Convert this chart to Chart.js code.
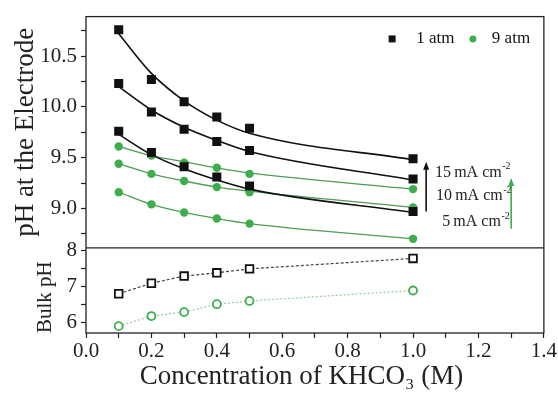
<!DOCTYPE html>
<html>
<head>
<meta charset="utf-8">
<script src="https://cdn.jsdelivr.net/npm/chart.js@4.4.1/dist/chart.umd.min.js"></script>
<style>
  html, body { margin: 0; padding: 0; background: #fff; }
</style>
</head>
<body>
<canvas id="phChart" width="558" height="394"></canvas>
<script>
// KHCO3 concentration (M)
const conc = [0.1, 0.2, 0.3, 0.4, 0.5, 1.0];

// electrode pH, measured points, 1 atm
const atm1_15 = [10.76, 10.27, 10.05, 9.90, 9.79, 9.49];
const atm1_10 = [10.23, 9.95, 9.78, 9.66, 9.57, 9.29];
const atm1_5 = [9.76, 9.55, 9.41, 9.31, 9.22, 8.97];
// electrode pH, measured points, 9 atm
const atm9_15 = [9.61, 9.52, 9.45, 9.40, 9.34, 9.19];
const atm9_10 = [9.44, 9.34, 9.27, 9.21, 9.16, 9.01];
const atm9_5 = [9.16, 9.04, 8.96, 8.90, 8.85, 8.70];

// fitted curves at the same concentrations
const fit1_15 = [10.72, 10.33, 10.06, 9.87, 9.74, 9.48];
const fit1_10 = [10.20, 9.97, 9.80, 9.67, 9.56, 9.28];
const fit1_5 = [9.73, 9.53, 9.39, 9.28, 9.19, 8.96];
const fit9_15 = [9.61, 9.52, 9.46, 9.40, 9.35, 9.19];
const fit9_10 = [9.44, 9.34, 9.27, 9.21, 9.17, 9.01];
const fit9_5 = [9.16, 9.04, 8.96, 8.90, 8.85, 8.70];

// bulk pH
const bulk1 = [6.81, 7.10, 7.30, 7.39, 7.50, 7.79];
const bulk9 = [5.91, 6.19, 6.30, 6.52, 6.61, 6.90];

const SERIF = "'Liberation Serif', 'Times New Roman', serif";
const BLACK = '#111111';
const GREEN = '#3dae4b';
const GREEN_LINE = '#4f9c57';

function pts(ys) {
    return conc.map((x, i) => ({ x: x, y: ys[i] }));
}

function markers(ys, color, style, radius) {
    return {
        data: pts(ys), yAxisID: 'y', showLine: false, order: 1,
        pointStyle: style, pointRadius: radius, pointHoverRadius: radius,
        pointBackgroundColor: color, pointBorderColor: color, pointBorderWidth: 0
    };
}

function fitLine(ys, color, width) {
    return {
        data: pts(ys), yAxisID: 'y', order: 2,
        borderColor: color, borderWidth: width, pointRadius: 0,
        cubicInterpolationMode: 'monotone', fill: false
    };
}

function bulkLine(ys, color, lineColor, style, radius, dash) {
    return {
        data: pts(ys), yAxisID: 'yb', order: 1,
        borderColor: lineColor, borderWidth: 1.2, borderDash: dash,
        pointStyle: style, pointRadius: radius, pointHoverRadius: radius,
        pointBackgroundColor: '#fff', pointBorderColor: color, pointBorderWidth: 1.8
    };
}

// frame, legend and current density arrows
const decorPlugin = {
    id: 'decor',
    afterDraw(chart) {
        const ctx = chart.ctx;
        const a = chart.chartArea;
        const sx = chart.scales.x;
        const sy = chart.scales.y;
        const px = v => sx.getPixelForValue(v);
        const py = v => sy.getPixelForValue(v);
        ctx.save();

        // frame + panel divider
        ctx.strokeStyle = '#222';
        ctx.lineWidth = 1.3;
        ctx.strokeRect(a.left, a.top, a.right - a.left, a.bottom - a.top);
        ctx.beginPath();
        ctx.moveTo(a.left, chart.scales.yb.top);
        ctx.lineTo(a.right, chart.scales.yb.top);
        ctx.stroke();

        // legend
        ctx.font = '17px ' + SERIF;
        ctx.textBaseline = 'middle';
        ctx.textAlign = 'left';
        ctx.fillStyle = BLACK;
        ctx.fillRect(px(0.936) - 3.5, py(10.67) - 3.5, 7, 7);
        ctx.fillText('1 atm', px(1.01), py(10.67));
        ctx.fillStyle = GREEN;
        ctx.beginPath();
        ctx.arc(px(1.183), py(10.67), 3.5, 0, Math.PI * 2);
        ctx.fill();
        ctx.fillStyle = BLACK;
        ctx.fillText('9 atm', px(1.241), py(10.67));

        // arrows
        function arrow(x, y0, y1, color) {
            ctx.strokeStyle = color;
            ctx.fillStyle = color;
            ctx.lineWidth = 1.6;
            ctx.beginPath();
            ctx.moveTo(px(x), py(y0));
            ctx.lineTo(px(x), py(y1) + 5);
            ctx.stroke();
            ctx.beginPath();
            ctx.moveTo(px(x), py(y1));
            ctx.lineTo(px(x) - 3, py(y1) + 8);
            ctx.lineTo(px(x) + 3, py(y1) + 8);
            ctx.closePath();
            ctx.fill();
        }
        arrow(1.04, 8.97, 9.46, BLACK);
        arrow(1.30, 8.80, 9.30, GREEN);

        // current density labels with superscript
        function label(x, y, main) {
            ctx.fillStyle = '#222';
            ctx.font = '16px ' + SERIF;
            ctx.fillText(main, px(x), py(y));
            const w = ctx.measureText(main).width;
            ctx.font = '10px ' + SERIF;
            ctx.fillText('-2', px(x) + w + 0.5, py(y) - 6);
        }
        label(1.067, 9.354, '15\u2009mA cm');
        label(1.070, 9.120, '10\u2009mA cm');
        label(1.089, 8.866, '5\u2009mA cm');

        ctx.restore();
    }
};

const tickFont = { family: SERIF, size: 21 };
const tickGrid = {
    drawOnChartArea: false, drawTicks: true, tickLength: 5,
    tickColor: '#222', tickWidth: 1.2
};

new Chart(document.getElementById('phChart'), {
    type: 'line',
    data: {
        datasets: [
            fitLine(fit1_15, BLACK, 1.6),
            fitLine(fit1_10, BLACK, 1.6),
            fitLine(fit1_5, BLACK, 1.6),
            fitLine(fit9_15, GREEN_LINE, 1.3),
            fitLine(fit9_10, GREEN_LINE, 1.3),
            fitLine(fit9_5, GREEN_LINE, 1.3),
            markers(atm1_15, BLACK, 'rect', 6.4),
            markers(atm1_10, BLACK, 'rect', 6.4),
            markers(atm1_5, BLACK, 'rect', 6.4),
            markers(atm9_15, GREEN, 'circle', 4.2),
            markers(atm9_10, GREEN, 'circle', 4.2),
            markers(atm9_5, GREEN, 'circle', 4.2),
            bulkLine(bulk1, BLACK, '#444', 'rect', 5.4, [3, 2]),
            bulkLine(bulk9, GREEN, '#9cc7a0', 'circle', 4, [2, 2])
        ]
    },
    options: {
        responsive: false,
        animation: false,
        layout: { padding: { left: 0, right: 13, top: 13, bottom: 0 } },
        plugins: {
            legend: { display: false },
            tooltip: { enabled: false }
        },
        scales: {
            x: {
                type: 'linear', min: 0, max: 1.4,
                border: { display: false },
                grid: tickGrid,
                ticks: {
                    stepSize: 0.1, padding: 1, color: '#222', font: tickFont,
                    maxRotation: 0, autoSkip: false,
                    callback: v => Math.round(v * 10) % 2 === 0 ? v.toFixed(1) : ''
                },
                title: {
                    display: true, text: 'Concentration of KHCO\u2083 (M)\u2002\u2002', color: '#222',
                    font: { family: SERIF, size: 27 }, padding: { top: 0, bottom: 1 }
                },
                afterFit: s => { s.height = 61; }
            },
            y: {
                type: 'linear', position: 'left', stack: 'ph', stackWeight: 234, weight: 1,
                min: 8.61, max: 10.89,
                border: { display: false },
                grid: tickGrid,
                ticks: {
                    stepSize: 0.25, padding: 4, color: '#222', font: tickFont,
                    includeBounds: false, autoSkip: false,
                    callback: v => Math.abs(v * 2 - Math.round(v * 2)) < 1e-6 ? v.toFixed(1) : ''
                },
                title: {
                    display: true, text: 'pH at the Electrode', color: '#222',
                    font: { family: SERIF, size: 27 }, padding: { top: 10, bottom: 0 }
                },
                afterFit: s => { s.width = 86; }
            },
            yb: {
                type: 'linear', position: 'left', stack: 'ph', stackWeight: 86, weight: 0,
                min: 5.72, max: 8.08,
                border: { display: false },
                grid: tickGrid,
                ticks: {
                    stepSize: 0.5, padding: 4, color: '#222', font: tickFont,
                    includeBounds: false, autoSkip: false,
                    callback: v => Number.isInteger(v) ? String(v) : ''
                },
                title: {
                    display: true, text: 'Bulk pH', color: '#222', align: 'start',
                    font: { family: SERIF, size: 21 }, padding: { top: 33, bottom: 0 }
                },
                afterFit: s => { s.width = 86; }
            }
        }
    },
    plugins: [decorPlugin]
});
</script>
</body>
</html>
